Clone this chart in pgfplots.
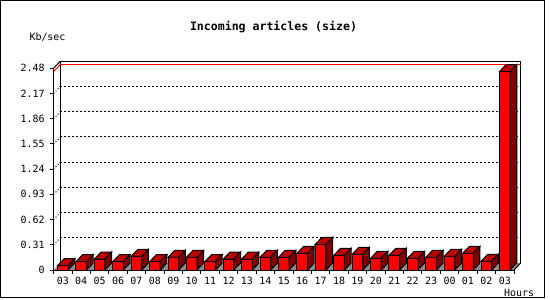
\documentclass[border=0pt]{standalone}
\usepackage{pgfplots}
\pgfplotsset{compat=1.18}
\usepackage{pgfplotstable}
\usepackage{fontspec}
\setmainfont{DejaVu Sans Mono}
\definecolor{barfront}{RGB}{255,0,0}
\definecolor{bartop}{RGB}{192,0,0}
\definecolor{barside}{RGB}{128,0,0}
\definecolor{floorgray}{RGB}{140,140,140}

\pgfplotstableread{
x v
0 0.053
1 0.102
2 0.135
3 0.102
4 0.168
5 0.102
6 0.156
7 0.156
8 0.102
9 0.135
10 0.135
11 0.156
12 0.156
13 0.205
14 0.316
15 0.180
16 0.193
17 0.144
18 0.180
19 0.144
20 0.156
21 0.168
22 0.205
23 0.107
24 2.44
}\rates

\pgfdeclareplotmark{bar3d}{%
  \pgfmathparse{\hv*81.33}\let\hh\pgfmathresult
  \pgfsetlinewidth{1bp}%
  \pgfsetstrokecolor{black}%
  \pgfsetfillcolor{bartop}%
  \pgfpathmoveto{\pgfpoint{-5.3bp}{0bp}}%
  \pgfpathlineto{\pgfpoint{5.3bp}{0bp}}%
  \pgfpathlineto{\pgfpoint{12bp}{7bp}}%
  \pgfpathlineto{\pgfpoint{1.4bp}{7bp}}%
  \pgfpathclose
  \pgfusepath{fill,stroke}%
  \pgfsetfillcolor{barside}%
  \pgfpathmoveto{\pgfpoint{5.3bp}{0bp}}%
  \pgfpathlineto{\pgfpoint{12bp}{7bp}}%
  \pgfpathlineto{\pgfpoint{12bp}{7bp-\hh bp}}%
  \pgfpathlineto{\pgfpoint{5.3bp}{-\hh bp}}%
  \pgfpathclose
  \pgfusepath{fill,stroke}%
}

\begin{document}
\begin{tikzpicture}
\path[use as bounding box] (0,0) rectangle (550bp,300bp);
\fill[white] (0,0) rectangle (550bp,300bp);

% back plane
\begin{axis}[
  at={(60.3bp,37bp)}, anchor=south west,
  scale only axis, width=460.4bp, height=201.7bp,
  xmin=-0.5, xmax=24.5, ymin=0, ymax=2.48,
  axis line style={line width=1bp, black},
  xtick=\empty,
  ytick={0.31,0.62,0.93,1.24,1.55,1.86,2.17},
  yticklabels={},
  major tick length=0pt,
  ymajorgrids,
  grid style={black, line width=1bp, dash pattern=on 2bp off 2bp},
  clip=false,
]
\addplot[red, line width=1bp] coordinates {(-0.5,2.44) (24.5,2.44)};
\end{axis}

% front
\begin{axis}[
  at={(53.6bp,30bp)}, anchor=south west,
  scale only axis, width=460.4bp, height=201.7bp,
  xmin=-0.5, xmax=24.5, ymin=0, ymax=2.48,
  clip=false, axis on top,
  axis lines*=left,
  axis line style={line width=1bp, black},
  tick style={line width=1bp, black},
  tick align=outside,
  major tick length=4bp,
  xtick={-0.5,0.5,...,24.5},
  xticklabels={},
  extra x ticks={0,1,...,24},
  extra x tick labels={03,04,05,06,07,08,09,10,11,12,13,14,15,16,17,18,19,20,21,22,23,00,01,02,03},
  extra x tick style={major tick length=0pt, xticklabel style={yshift=-3.5bp}},
  ytick={0,0.31,0.62,0.93,1.24,1.55,1.86,2.17,2.48},
  yticklabels={0,0.31,0.62,0.93,1.24,1.55,1.86,2.17,2.48},
  yticklabel style={xshift=-1.5bp},
  /pgf/number format/assume math mode=true,
  tick label style={font=\fontsize{10}{12}\selectfont},
]
\fill[floorgray] (axis cs:-0.5,0) -- (axis cs:24.5,0) -- ([shift={(6.7bp,7bp)}]axis cs:24.5,0) -- ([shift={(6.7bp,7bp)}]axis cs:-0.5,0) -- cycle;
\pgfplotsinvokeforeach{0.31,0.62,0.93,1.24,1.55,1.86,2.17}{
  \draw[line width=1bp, dash pattern=on 1bp off 2bp] (axis cs:-0.5,#1) -- ++(6.7bp,7bp);
}
\draw[line width=1bp] (axis cs:-0.5,2.48) -- ++(6.7bp,7bp);
\draw[red, line width=1bp] (axis cs:-0.5,2.44) -- ++(6.7bp,7bp);
\draw[line width=1bp] (axis cs:24.5,0) -- ++(6.7bp,7bp);
\addplot[ybar, bar shift=0pt, bar width=10.6bp, fill=barfront, draw=black, line width=1bp] table[x=x, y=v] {\rates};
\addplot[only marks, mark=bar3d, visualization depends on={\thisrow{v} \as \hv}] table[x=x, y=v] {\rates};
\end{axis}

\node[font=\bfseries\fontsize{11.6}{13}\selectfont] at (273.5bp,273bp) {Incoming articles (size)};
\node[font=\fontsize{10}{12}\selectfont] at (47.5bp,263bp) {Kb/sec};
\node[font=\fontsize{10}{12}\selectfont] at (519bp,7.3bp) {Hours};
\draw[line width=1bp] (0.5bp,2.2bp) rectangle (544.5bp,299.5bp);
\end{tikzpicture}
\end{document}
